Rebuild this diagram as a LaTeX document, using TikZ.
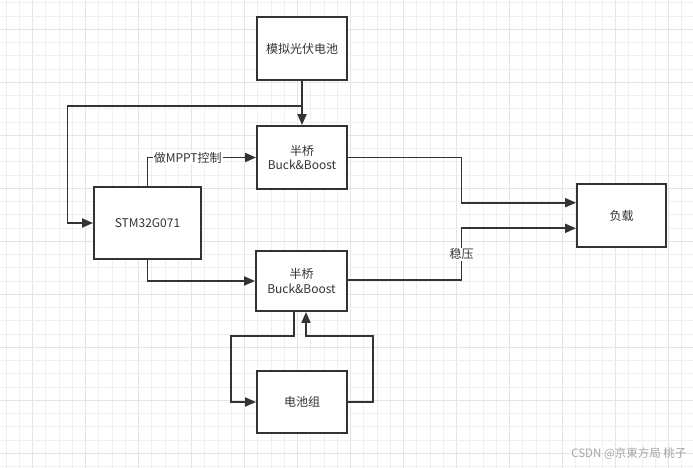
\documentclass[tikz,border=0pt]{standalone}
\usepackage{fontspec}
\setmainfont{Noto Sans CJK SC}
\usetikzlibrary{arrows.meta}
\definecolor{ln}{HTML}{333333}
\definecolor{gridminor}{HTML}{EFEFEF}
\definecolor{gridmajor}{HTML}{E4E4E4}
\begin{document}
\begin{tikzpicture}[x=1pt,y=-1pt,
  box/.style={draw=ln,line width=1.9pt,fill=white,inner sep=0pt,align=center,
    text=ln,font=\fontsize{12}{14.5}\selectfont},
  conn/.style={draw=ln,line width=1.9pt,-{Triangle[length=11pt,width=9pt]}},
  lbl/.style={fill=white,inner sep=1pt,text=ln,font=\fontsize{12}{14.5}\selectfont},
  gminor/.style={draw=gridminor,line width=0.8pt},
  gmajor/.style={draw=gridmajor,line width=1.1pt}]
\useasboundingbox (0,0) rectangle (693,468);
\fill[white] (0,0) rectangle (693,468);
% background grid
\foreach \i in {0,...,52} {
  \pgfmathtruncatemacro{\m}{mod(\i+2,4)}
  \ifnum\m=0 \draw[gmajor] ({6+13.25*\i},0) -- ({6+13.25*\i},468);
  \else \draw[gminor] ({6+13.25*\i},0) -- ({6+13.25*\i},468); \fi
}
\foreach \j in {0,...,35} {
  \pgfmathtruncatemacro{\m}{mod(\j+2,4)}
  \ifnum\m=0 \draw[gmajor] (0,{2.7+13.25*\j}) -- (693,{2.7+13.25*\j});
  \else \draw[gminor] (0,{2.7+13.25*\j}) -- (693,{2.7+13.25*\j}); \fi
}
% nodes
\node[box,minimum width=90pt,minimum height=63pt] (pv) at (302,48.5) {模拟光伏电池};
\node[box,minimum width=90pt,minimum height=63pt] (bk1) at (302,157.5) {半桥\\Buck\&Boost};
\node[box,minimum width=107pt,minimum height=72pt] (stm) at (147.5,223) {STM32G071};
\node[box,minimum width=91pt,minimum height=60pt] (bk2) at (301.5,281) {半桥\\Buck\&Boost};
\node[box,minimum width=90pt,minimum height=62pt] (bat) at (302,402) {电池组};
\node[box,minimum width=89pt,minimum height=63pt] (load) at (621.5,215.5) {负载};
% connectors
\draw[conn] (pv) -- (bk1);
\coordinate (j1) at (302,106);
\draw[conn] (j1) -- (67.5,106) |- (stm.west);
\draw[conn] (stm.north) |- node[lbl,pos=0.685]{做MPPT控制} (bk1.west);
\draw[conn] (bk1.east) -- (461.5,157.5) |- ([yshift=12.8pt]load.west);
\draw[conn] ([yshift=1pt]bk2.east) -- (461.5,280) -- node[lbl]{稳压} (461.5,228.3) -- ([yshift=-12.8pt]load.west);
\draw[conn] (stm.south) |- (bk2.west);
\draw[conn] ([xshift=-7.2pt]bk2.south) -- (294.3,335.7) -- (231,335.7) |- (bat.west);
\draw[conn] (bat.east) -- (373.3,402) -- (373.3,335.7) -| ([xshift=4.5pt]bk2.south);
% watermark
\node[text=black!35,font=\fontsize{11.5}{13}\selectfont,anchor=east] (wm) at (690,454) {CSDN @京東方局 桃子};
\end{tikzpicture}
\end{document}
